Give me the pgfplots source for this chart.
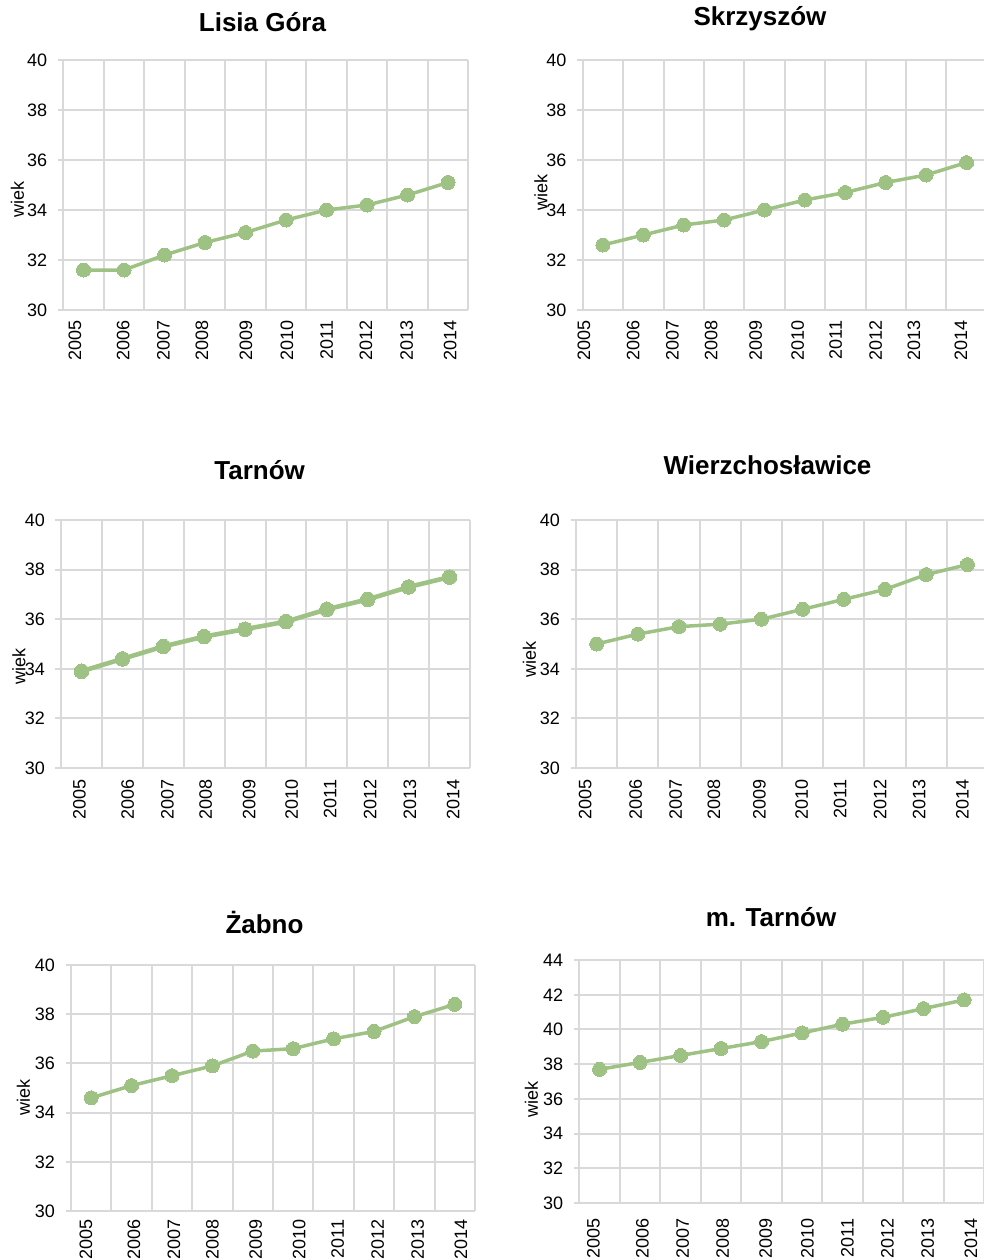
\documentclass[border=0pt]{standalone}
\usepackage{fontspec}
\setmainfont{Liberation Sans}
\usepackage{pgfplots}
\pgfplotsset{compat=1.18}
\definecolor{gridc}{RGB}{217,217,217}
\definecolor{lgreen}{RGB}{158,193,132}
\pgfplotsset{
  panel/.style={
    scale only axis, anchor=north west,
    xmin=-0.5, xmax=9.5, ymin=30, ymax=40, ytick={30,32,...,40},
    axis line style={draw=none},
    ymajorgrids, xminorgrids, xmajorgrids=false,
    minor xtick={-0.5,0.5,...,9.5},
    major grid style={gridc, line width=2bp},
    minor grid style={gridc, line width=2bp},
    tick align=outside, ytick pos=left,
    major tick length=5.5bp, minor tick length=0pt,
    ytick style={gridc, line width=2bp},
    xtick style={draw=none},
    xticklabels={2005,2006,2007,2008,2009,2010,2011,2012,2013,2014},
    /pgf/number format/assume math mode=true,
    tick label style={font=\fontsize{18bp}{20bp}\selectfont},
    yticklabel style={anchor=east, inner sep=0pt},
    yticklabel shift=10.5bp,
    xticklabel style={rotate=90, anchor=east, inner sep=0pt},
    clip=false,
  },
  gline/.style={lgreen, line width=3.5bp, mark=*, mark size=7bp, mark options={fill=lgreen, draw=lgreen, line width=0pt}},
}
\newcommand{\ttl}[3]{\node[anchor=base, font=\fontsize{26bp}{30bp}\selectfont\bfseries] at (#1bp,-#2bp) {#3};}
\newcommand{\wiek}[2]{\node[rotate=90, font=\fontsize{18bp}{20bp}\selectfont, inner sep=0pt] at (#1bp,-#2bp) {wiek};}
\begin{document}
\begin{tikzpicture}
\useasboundingbox (0,0) rectangle (984bp,-1259bp);
\clip (0,0) rectangle (984bp,-1259bp);
% Lisia Gora
\begin{axis}[panel, at={(63.3bp,-60bp)}, width=405bp, height=250bp,
  xtick={-0.21,0.98,1.97,2.92,4.01,5.02,6.0,6.97,7.98,9.05}, xticklabel shift=5bp]
\addplot[gline] coordinates {(0,31.6)(1,31.6)(2,32.2)(3,32.7)(4,33.1)(5,33.6)(6,34.0)(7,34.2)(8,34.6)(9,35.1)};
\end{axis}
% Skrzyszow
\begin{axis}[panel, at={(582.7bp,-60bp)}, width=404bp, height=250bp,
  xtick={-0.47,0.75,1.72,2.68,3.78,4.82,5.76,6.75,7.70,8.86}, xticklabel shift=5bp]
\addplot[gline] coordinates {(0,32.6)(1,33.0)(2,33.4)(3,33.6)(4,34.0)(5,34.4)(6,34.7)(7,35.1)(8,35.4)(9,35.9)};
\end{axis}
% Tarnow
\begin{axis}[panel, at={(61bp,-520bp)}, width=409bp, height=248bp,
  xtick={-0.05,1.13,2.10,3.04,4.10,5.14,6.08,7.06,8.03,9.09}, xticklabel shift=5.7bp]
\addplot[gline, line width=4.6bp, mark size=7.3bp] coordinates {(0,33.9)(1,34.4)(2,34.9)(3,35.3)(4,35.6)(5,35.9)(6,36.4)(7,36.8)(8,37.3)(9,37.7)};
\end{axis}
% Wierzchoslawice
\begin{axis}[panel, at={(576bp,-520bp)}, width=412bp, height=248bp,
  xtick={-0.28,0.95,1.92,2.85,3.95,4.98,5.91,6.88,7.83,8.88}, xticklabel shift=6bp]
\addplot[gline] coordinates {(0,35.0)(1,35.4)(2,35.7)(3,35.8)(4,36.0)(5,36.4)(6,36.8)(7,37.2)(8,37.8)(9,38.2)};
\end{axis}
% Zabno
\begin{axis}[panel, at={(71bp,-965bp)}, width=404bp, height=246bp,
  xtick={-0.13,1.06,2.05,3.0,4.07,5.15,6.10,7.09,8.08,9.15}, xticklabel shift=3bp]
\addplot[gline] coordinates {(0,34.6)(1,35.1)(2,35.5)(3,35.9)(4,36.5)(5,36.6)(6,37.0)(7,37.3)(8,37.9)(9,38.4)};
\end{axis}
% m. Tarnow
\begin{axis}[panel, at={(579.3bp,-960bp)}, width=405bp, height=243bp, ymax=44, ytick={30,32,...,44},
  xtick={-0.15,1.06,2.05,3.04,4.10,5.13,6.12,7.11,8.10,9.17}, xticklabel shift=10bp]
\addplot[gline] coordinates {(0,37.7)(1,38.1)(2,38.5)(3,38.9)(4,39.3)(5,39.8)(6,40.3)(7,40.7)(8,41.2)(9,41.7)};
\end{axis}
\ttl{262.5}{31}{Lisia Góra}
\ttl{760}{25}{Skrzyszów}
\ttl{259.7}{479}{Tarnów}
\ttl{767.5}{474.3}{Wierzchosławice}
\ttl{264.5}{933.3}{Żabno}
\ttl{771}{926}{m. Tarnów}
\wiek{17.5}{199}
\wiek{541}{192.5}
\wiek{19}{666}
\wiek{529.5}{659}
\wiek{23.5}{1097.5}
\wiek{531.5}{1099}
\end{tikzpicture}
\end{document}
